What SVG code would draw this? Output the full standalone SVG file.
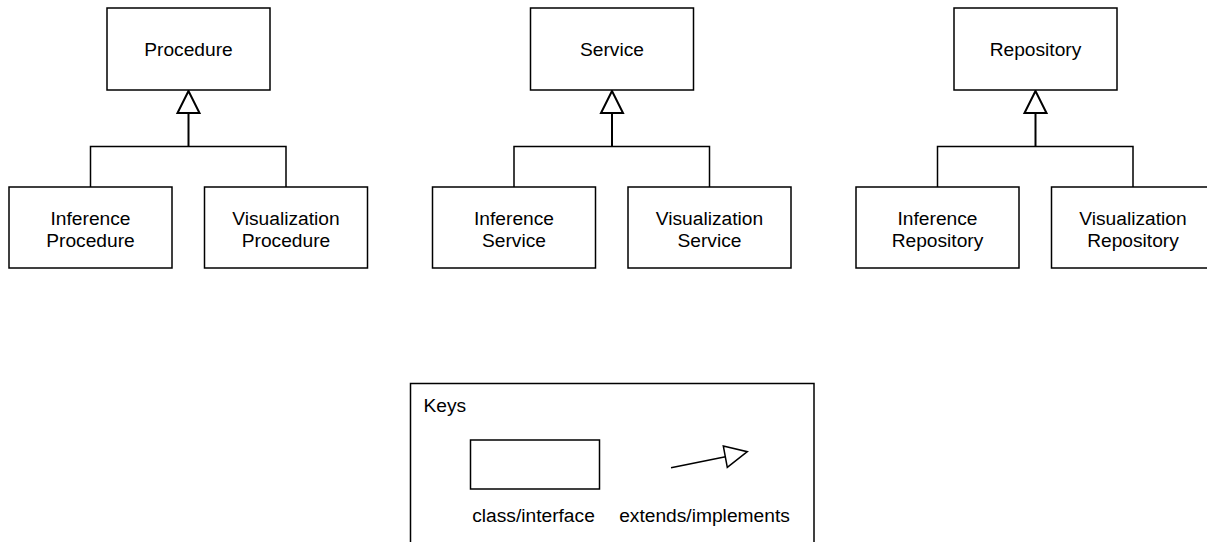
<svg xmlns="http://www.w3.org/2000/svg" width="1207" height="542" viewBox="0 0 1207 542">
<style>
.box{fill:#fff;stroke:#000;stroke-width:1.5}
.ln{fill:none;stroke:#000;stroke-width:1.5}
.stem{fill:none;stroke:#000;stroke-width:2}
.tri{fill:#fff;stroke:#000;stroke-width:2;stroke-linejoin:miter}
text{font-family:"Liberation Sans",Arial,Helvetica,sans-serif;font-size:19.2px;fill:#000;text-anchor:middle}
</style>
<rect width="1207" height="542" fill="#fff"/>
<g id="connectors">
  <polyline class="ln" points="90.5,187 90.5,146.5 286,146.5 286,187"/>
  <line class="stem" x1="188.5" y1="113" x2="188.5" y2="146.5"/>
  <polygon class="tri" points="188.5,91 177.5,113 199.5,113"/>
  <polyline class="ln" points="514,187 514,146.5 709.5,146.5 709.5,187"/>
  <line class="stem" x1="612" y1="113" x2="612" y2="146.5"/>
  <polygon class="tri" points="612,91 601,113 623,113"/>
  <polyline class="ln" points="937.5,187 937.5,146.5 1133,146.5 1133,187"/>
  <line class="stem" x1="1035.5" y1="113" x2="1035.5" y2="146.5"/>
  <polygon class="tri" points="1035.5,91 1024.5,113 1046.5,113"/>
</g>
<g id="procedure"><rect class="box" x="107" y="8" width="163" height="82"/><text x="188.5" y="56">Procedure</text></g>
<g id="inference-procedure"><rect class="box" x="9" y="187" width="163" height="81"/><text x="90.5" y="225">Inference</text><text x="90.5" y="247">Procedure</text></g>
<g id="visualization-procedure"><rect class="box" x="204.5" y="187" width="163" height="81"/><text x="286" y="225">Visualization</text><text x="286" y="247">Procedure</text></g>
<g id="service"><rect class="box" x="530.5" y="8" width="163" height="82"/><text x="612" y="56">Service</text></g>
<g id="inference-service"><rect class="box" x="432.5" y="187" width="163" height="81"/><text x="514" y="225">Inference</text><text x="514" y="247">Service</text></g>
<g id="visualization-service"><rect class="box" x="628" y="187" width="163" height="81"/><text x="709.5" y="225">Visualization</text><text x="709.5" y="247">Service</text></g>
<g id="repository"><rect class="box" x="954" y="8" width="163" height="82"/><text x="1035.5" y="56">Repository</text></g>
<g id="inference-repository"><rect class="box" x="856" y="187" width="163" height="81"/><text x="937.5" y="225">Inference</text><text x="937.5" y="247">Repository</text></g>
<g id="visualization-repository"><rect class="box" x="1051.5" y="187" width="163" height="81"/><text x="1133" y="225">Visualization</text><text x="1133" y="247">Repository</text></g>
<g id="keys">
  <rect class="box" x="410.5" y="383.5" width="403.5" height="200"/>
  <text x="423.5" y="412" style="text-anchor:start">Keys</text>
  <rect class="box" x="470.5" y="440" width="129" height="49"/>
  <text x="533.5" y="522">class/interface</text>
  <line class="ln" x1="671" y1="467.7" x2="725.5" y2="456.8"/>
  <polygon class="ln" points="723.3,446 747.3,451.7 727.3,467.3"/>
  <text x="704.5" y="522">extends/implements</text>
</g>
</svg>
